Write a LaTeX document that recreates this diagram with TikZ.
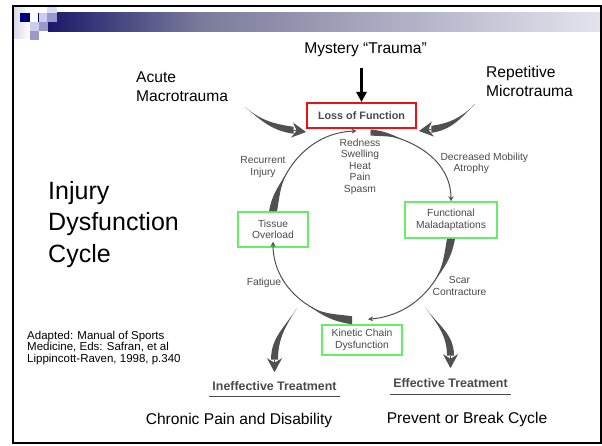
\documentclass[tikz,border=0pt]{standalone}
\usepackage{fontspec}
\setmainfont{Liberation Sans}
\usetikzlibrary{arrows.meta}

\definecolor{navy}{HTML}{1A1A6C}
\definecolor{barmid}{HTML}{7A7A9C}
\definecolor{barend}{HTML}{E4E4EE}
\definecolor{sqdark}{HTML}{000080}
\definecolor{sqlight}{HTML}{CCCCEE}
\definecolor{sqmid}{HTML}{9999CC}
\definecolor{fadelav}{HTML}{D8D8EC}
\definecolor{scangray}{HTML}{4A4A4A}
\definecolor{arrowgray}{HTML}{505050}
\definecolor{lossred}{HTML}{EE1111}
\definecolor{boxgreen}{HTML}{66EE66}

\begin{document}
\begin{tikzpicture}[x=1pt,y=1pt,
    % text of the slide itself
    slide/.style={font=\fontsize{15.6}{19}\selectfont,inner sep=0pt,align=left},
    % text of the scanned figure
    scan/.style={text=scangray,font=\fontsize{10.3}{11.5}\selectfont,align=center},
    greenbox/.style={scan,draw=boxgreen,line width=1.5pt,fill=white},
    lossbox/.style={draw=lossred,line width=2pt,fill=white,
      minimum width=109pt,minimum height=25pt,
      text=scangray,font=\bfseries\fontsize{10.8}{13}\selectfont},
    treat/.style={anchor=base,inner xsep=3pt,text=scangray,
      font=\bfseries\fontsize{12.4}{14}\selectfont},
    uline/.style={draw=scangray,line width=1.4pt},
    cycline/.style={draw=arrowgray,line width=1pt,-{Stealth[length=5pt,width=5pt]}},
    taper/.style={fill=arrowgray},
    bigbody/.style={fill=arrowgray},
    bighead/.style={draw=arrowgray,line width=0.8pt,-{Stealth[length=14pt,width=15pt]}},
    mystarrow/.style={line width=2.6pt,-{Triangle[length=10pt,width=10pt]}}]

  \useasboundingbox (0,0) rectangle (602,445);

  % header bar
  \fill[left color=fadelav,right color=white] (13,406) rectangle (30,438);
  \fill[left color=navy,right color=barmid] (48,413) rectangle (200,432);
  \fill[left color=barmid,right color=barend] (200,413) rectangle (602,432);
  \fill[sqdark] (20,423) rectangle (30,432);
  \fill[sqlight] (38.5,423) rectangle (47,432);
  \fill[sqdark] (38,423) rectangle (39.2,432);
  \fill[sqlight!70!white] (47,432) rectangle (57,438);
  \fill[sqmid] (47,423) rectangle (57,432);
  \fill[sqlight] (30,414) rectangle (39,423);
  \fill[sqmid] (39,414) rectangle (48,423);
  \fill[sqmid] (30,405) rectangle (39,414);

  % slide text
  \node[slide,anchor=base] (mystery) at (365.5,391.7) {Mystery “Trauma”};
  \node[slide,anchor=west] (acute) at (136,358.5) {Acute\\Macrotrauma};
  \node[slide,anchor=west] (repetitive) at (486,363.5) {Repetitive\\Microtrauma};
  \node[slide,anchor=west,font=\fontsize{25}{31.5}\selectfont] (title) at (48,220.5)
    {Injury\\Dysfunction\\Cycle};
  \node[slide,anchor=west,font=\fontsize{11.5}{11.8}\selectfont] (source) at (27,97)
    {Adapted: Manual of Sports\\Medicine, Eds: Safran, et al\\Lippincott-Raven, 1998, p.340};
  \node[slide,anchor=base] (chronic) at (239,21) {Chronic Pain and Disability};
  \node[slide,anchor=base] (prevent) at (467,21.7) {Prevent or Break Cycle};

  % boxes of the cycle
  \node[lossbox] (loss) at (361.5,329.5) {Loss of Function};
  \node[greenbox,minimum width=70pt,minimum height=35pt] (tissue) at (273,215.5) {Tissue\\Overload};
  \node[greenbox,minimum width=92pt,minimum height=36pt] (functional) at (451,225) {Functional\\Maladaptations};
  \node[greenbox,minimum width=80pt,minimum height=30pt] (kinetic) at (362,105) {Kinetic Chain\\Dysfunction};

  % labels round the cycle
  \node[scan] (signs) at (360,278.5) {Redness\\Swelling\\Heat\\Pain\\Spasm};
  \node[scan] (recurrent) at (263,278) {Recurrent\\Injury};
  \node[scan,align=left,anchor=west] (mobility) at (437,281.5) {Decreased Mobility\\\hspace{13pt}Atrophy};
  \node[scan] (fatigue) at (264,162) {Fatigue};
  \node[scan] (scar) at (459.5,159) {Scar\\Contracture};

  \node[treat] (ineff) at (274.5,54.3) {Ineffective Treatment};
  \node[treat] (eff) at (450.5,57.3) {Effective Treatment};
  \draw[uline] ([yshift=-5.5pt]ineff.base west) -- ([yshift=-5.5pt]ineff.base east);
  \draw[uline] ([yshift=-6.5pt]eff.base west) -- ([yshift=-6.5pt]eff.base east);

  % the cycle
  \draw[cycline] (tissue.north) to[out=80,in=182] coordinate[pos=0.35] (t1)
    ([xshift=-5pt,yshift=-2pt]loss.south);
  \fill[taper] ([xshift=-4pt]tissue.north) to[out=80,in=-122] (t1)
    to[out=-122,in=80] ([xshift=4pt]tissue.north) -- cycle;
  \draw[cycline] ([xshift=9pt,yshift=-3.5pt]loss.south) to[out=-5,in=90] coordinate[pos=0.3] (t2)
    (functional.north);
  \fill[taper] ([xshift=9pt,yshift=-0.5pt]loss.south) to[out=-5,in=155] (t2)
    to[out=155,in=-5] ([xshift=9pt,yshift=-6.5pt]loss.south) -- cycle;
  \draw[cycline] (functional.south) to[out=-100,in=5] coordinate[pos=0.4] (t3)
    ([xshift=6pt,yshift=5pt]kinetic.north);
  \fill[taper] ([xshift=-4pt]functional.south) to[out=-100,in=53] (t3)
    to[out=53,in=-100] ([xshift=4pt]functional.south) -- cycle;
  \draw[cycline] ([xshift=-10pt,yshift=3pt]kinetic.north) to[out=172,in=-90] coordinate[pos=0.4] (t4)
    ([yshift=6pt]tissue.south);
  \fill[taper] ([xshift=-10pt]kinetic.north) to[out=172,in=-37] (t4)
    to[out=-37,in=172] ([xshift=-10pt,yshift=8pt]kinetic.north) -- cycle;

  % mystery trauma
  \coordinate (mysttail) at (361.5,377);
  \draw[mystarrow] (mysttail) -- (loss.north);

  % big curved arrows
  \coordinate (acutetail) at (245,338);
  \coordinate (reptail) at (475,341);
  \coordinate (inefftail) at (297,137);
  \coordinate (efftail) at (425,138);

  \fill[bigbody] (acutetail) to[out=-40,in=172] ([shift={(-12.4,2.2)}]loss.south west)
    -- ([shift={(-12.4,-4.8)}]loss.south west) to[out=172,in=-40] (acutetail) -- cycle;
  \draw[bighead] ([shift={(-12.4,-1.3)}]loss.south west) -- ([yshift=-3pt]loss.south west);

  \fill[bigbody] (reptail) to[out=-135,in=8] ([shift={(14.4,3.2)}]loss.south east)
    -- ([shift={(14.4,-3.8)}]loss.south east) to[out=8,in=-135] (reptail) -- cycle;
  \draw[bighead] ([shift={(14.4,-0.3)}]loss.south east) -- ([shift={(2,-2)}]loss.south east);

  \fill[bigbody] (inefftail) to[out=-122,in=90] ([shift={(3.5,18.5)}]ineff.north)
    -- ([shift={(-3.5,18.5)}]ineff.north) to[out=90,in=-122] (inefftail) -- cycle;
  \draw[bighead] ([yshift=18.5pt]ineff.north) -- ([yshift=6pt]ineff.north);

  \fill[bigbody] (efftail) to[out=-55,in=90] ([shift={(3.5,19.5)}]eff.north)
    -- ([shift={(-3.5,19.5)}]eff.north) to[out=90,in=-55] (efftail) -- cycle;
  \draw[bighead] ([yshift=19.5pt]eff.north) -- ([yshift=7pt]eff.north);

  % slide frame
  \draw[line width=2pt] (13.3,2) rectangle (600.8,439.2);
\end{tikzpicture}
\end{document}
